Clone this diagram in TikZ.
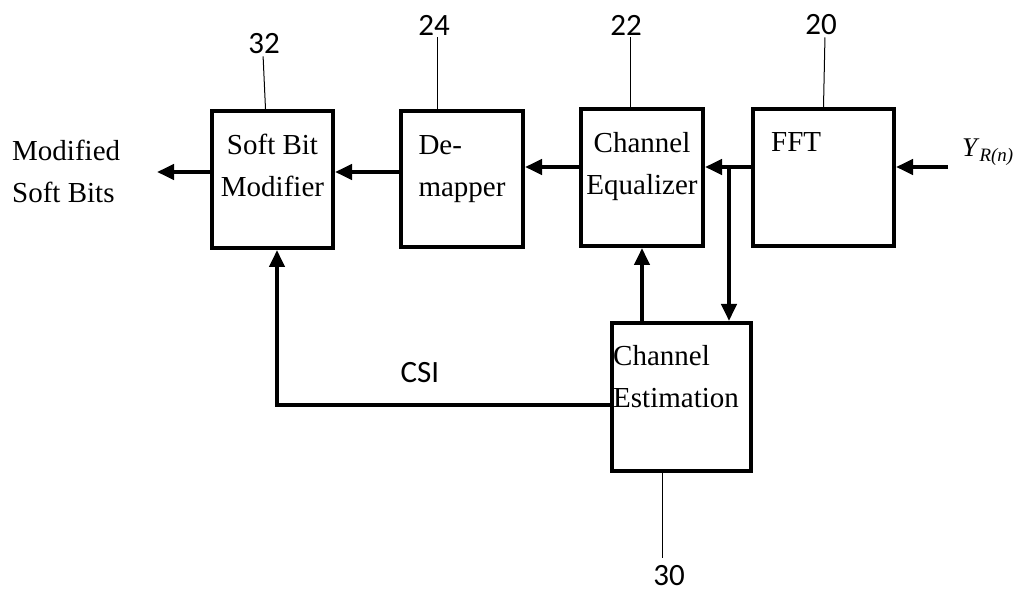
\documentclass[tikz,border=0pt]{standalone}
\usepackage{fontspec}
\setmainfont{Liberation Serif}
\newfontfamily\calfont{Carlito}
\usetikzlibrary{arrows.meta,positioning}

\begin{document}
\begin{tikzpicture}[
    x=1pt, y=-1pt,
    blk/.style={draw,line width=4pt,inner sep=0pt},
    txt/.style={inner sep=0pt,align=center,font=\fontsize{29pt}{42pt}\selectfont},
    refno/.style={inner sep=0pt,font=\calfont\fontsize{31pt}{31pt}\selectfont},
    flow/.style={line width=4pt,-{Triangle[length=17pt,width=15pt]}},
    lead/.style={line width=1pt}
]
\useasboundingbox (0,0) rectangle (1022,593);

% blocks
\node[blk,minimum width=121pt,minimum height=137pt] (sbm) at (272.5,179.5) {};
\node[blk,minimum width=122pt,minimum height=136pt] (dem) at (462,179) {};
\node[blk,minimum width=122pt,minimum height=137pt] (eq) at (642,177.5) {};
\node[blk,minimum width=141pt,minimum height=137pt] (fft) at (823.5,177.5) {};
\node[blk,minimum width=139pt,minimum height=148pt] (est) at (681.5,397) {};

% block texts
\node[txt,below=25pt of sbm.north] (sbmtxt) {Soft Bit\\Modifier};
\node[txt,align=left,below=26pt of dem.north] (demtxt) {De-\\mapper};
\node[txt,below=25pt of eq.north] (eqtxt) {Channel\\Equalizer};
\node[txt,anchor=north west] (ffttxt) at ([xshift=20pt,yshift=-25pt]fft.north west) {FFT};
\node[txt,align=left,anchor=north west] (esttxt) at ([xshift=3pt,yshift=-24pt]est.north west) {Channel\\Estimation};

% outside texts
\node[txt,align=left,anchor=north west] (outlbl) at (12,140) {Modified\\Soft Bits};
\node[inner sep=0pt,anchor=base west,font=\fontsize{27pt}{27pt}\selectfont] (ylbl) at (962,157) {\textit{Y}\textsubscript{\textit{R(n)}}};
\node[refno] (csilbl) at (420,373) {CSI};

% reference numbers
\node[refno] (n32) at (264,44) {32};
\node[refno] (n24) at (434,25) {24};
\node[refno] (n22) at (626,25) {22};
\node[refno] (n20) at (821,25) {20};
\node[refno] (n30) at (669,576) {30};
\draw[lead,shorten <=2pt] ([xshift=-1pt]n32.south) -- ([xshift=-7pt]sbm.north);
\draw[lead,shorten <=2pt] ([xshift=3pt]n24.south) -- ([xshift=-25pt]dem.north);
\draw[lead,shorten <=2pt] ([xshift=4pt]n22.south) -- ([xshift=-12pt]eq.north);
\draw[lead,shorten <=2pt] ([xshift=4pt]n20.south) -- (fft.north);
\draw[lead,shorten <=8pt] ([xshift=-7pt]n30.north) -- ([xshift=-19.5pt]est.south);

% signal flow
\coordinate (rowA) at (0,172);
\coordinate (rowB) at (0,167);
\coordinate (out) at (157,172);
\coordinate (yin) at (948,167);
\coordinate (br) at (729,167);
\coordinate (csi) at (277,405);
\draw[flow] (sbm.west |- rowA) -- (out);
\draw[flow] (dem.west |- rowA) -- (sbm.east |- rowA);
\draw[flow] (eq.west |- rowB) -- (dem.east |- rowB);
\draw[flow] (fft.west |- rowB) -- (eq.east |- rowB);
\draw[flow] (yin) -- (fft.east |- rowB);
\draw[flow] (br) -- (br |- est.north);
\draw[flow] (eq.south |- est.north) -- (eq.south);
\draw[flow] (est.west |- csi) -- (csi) -- (csi |- sbm.south);
\end{tikzpicture}
\end{document}
